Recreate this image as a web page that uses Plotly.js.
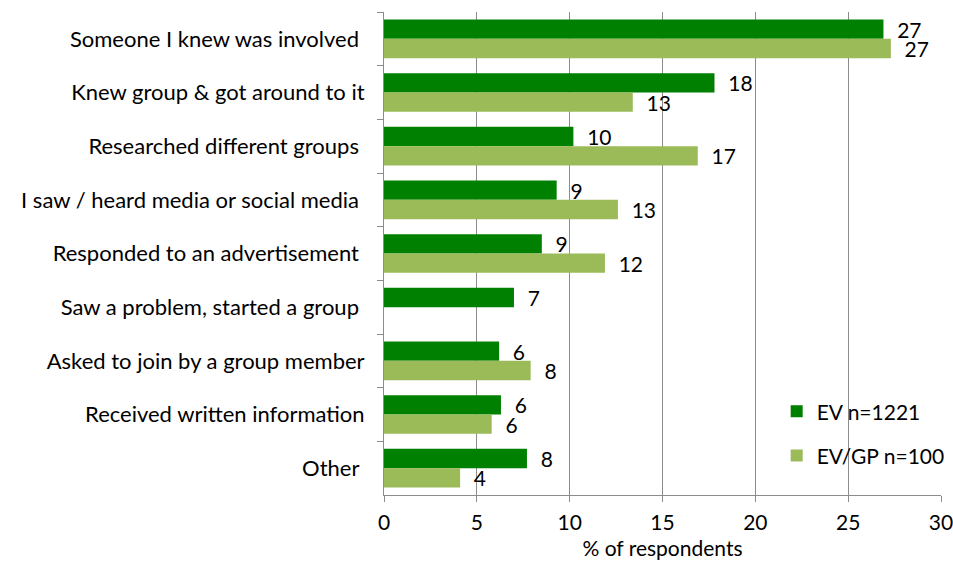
<!DOCTYPE html>
<html>
<head>
<meta charset="utf-8">
<script src="https://cdn.plot.ly/plotly-3.0.1.min.js"></script>
<style>html,body{margin:0;padding:0;background:#fff}#chart{width:953px;height:569px}</style>
</head>
<body>
<div id="chart"></div>
<script>
const categories = [
  "Someone I knew was involved ",
  "Knew group & got around to it",
  "Researched different groups ",
  "I saw / heard media or social media ",
  "Responded to an advertisement ",
  "Saw a problem, started a group ",
  "Asked to join by a group member",
  "Received written information",
  "Other "
];
const evValues = [26.9, 17.8, 10.2, 9.3, 8.5, 7.0, 6.2, 6.3, 7.7];
const gpValues = [27.3, 13.4, 16.9, 12.6, 11.9, null, 7.9, 5.8, 4.1];
const seriesNames = ["EV n=1221", "EV/GP n=100"];
const xTicks = [0, 5, 10, 15, 20, 25, 30];

const FONT = "Lato, 'Open Sans', sans-serif";
const traces = [
  {type: "bar", orientation: "h", name: seriesNames[0], y: categories, x: evValues,
   marker: {color: "#008000"}, texttemplate: "  %{x:.0f}", textposition: "outside",
   constraintext: "none", textfont: {size: 21, color: "#000"}, cliponaxis: false, legendgroup: "a"},
  {type: "bar", orientation: "h", name: seriesNames[1], y: categories, x: gpValues,
   marker: {color: "#9BBB59"}, texttemplate: "  %{x:.0f}", textposition: "outside",
   constraintext: "none", textfont: {size: 21, color: "#000"}, cliponaxis: false, legendgroup: "b"}
];
const layout = {
  width: 953, height: 569,
  margin: {l: 384, r: 12, t: 12, b: 74, autoexpand: false},
  paper_bgcolor: "#fff", plot_bgcolor: "#fff",
  font: {family: FONT, size: 21, color: "#000"},
  barmode: "group", bargap: 0.28, bargroupgap: 0,
  showlegend: true,
  legend: {x: 0.705, y: 0.215, xanchor: "left", yanchor: "top", traceorder: "grouped",
           tracegroupgap: 14, font: {size: 21}, bgcolor: "rgba(255,255,255,0)"},
  xaxis: {range: [0, 30], tickvals: xTicks, ticktext: xTicks.map(String), showgrid: true,
          gridcolor: "#8c8c8c", gridwidth: 1,
          showline: true, linecolor: "#8c8c8c", ticks: "outside", ticklen: 6, tickcolor: "#8c8c8c",
          zeroline: false, automargin: false, tickfont: {size: 21}, ticklabelstandoff: 3,
          ticklabeloverflow: "allow",
          title: {text: "% of respondents", font: {size: 21}, standoff: 8}},
  yaxis: {type: "category", autorange: "reversed", showline: true, linecolor: "#8c8c8c",
          ticks: "outside", tickson: "boundaries", ticklen: 6, tickcolor: "#8c8c8c",
          automargin: false, ticklabelstandoff: 14,
          tickfont: {size: 22}, showgrid: false}
};
Plotly.newPlot("chart", traces, layout, {displayModeBar: false, staticPlot: true});
</script>
</body>
</html>
